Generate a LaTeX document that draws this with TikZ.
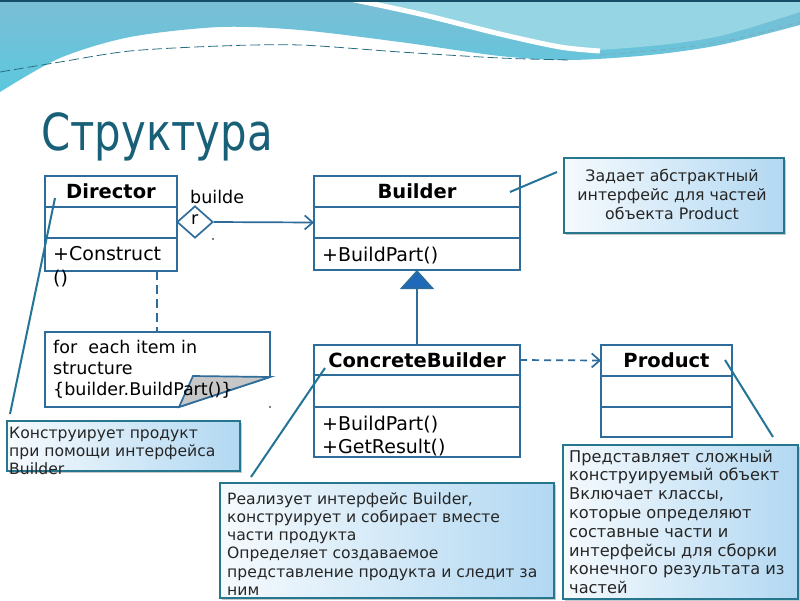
\documentclass[tikz,border=0pt]{standalone}
\usepackage{fontspec}
\setmainfont{DejaVu Sans}
\newfontfamily\titlefont[FakeStretch=0.82]{DejaVu Sans}
\usetikzlibrary{arrows.meta,shapes.geometric,shadows,calc}
\definecolor{uml}{RGB}{46,108,155}
\definecolor{trifill}{RGB}{30,105,185}
\definecolor{notebd}{RGB}{38,118,142}
\definecolor{notein}{RGB}{178,216,242}
\definecolor{callcol}{RGB}{36,116,152}
\definecolor{titlecol}{RGB}{24,96,120}
\definecolor{waveA}{RGB}{122,190,213}
\definecolor{waveB}{RGB}{92,200,222}
\definecolor{waveC}{RGB}{150,214,228}
\definecolor{topline}{RGB}{22,78,104}
\definecolor{dashcol}{RGB}{40,110,130}
\tikzset{
  row/.style={draw=uml, line width=1.7pt, fill=white, minimum width=#1, inner sep=0pt, outer sep=0pt, anchor=north west},
  hdr/.style={font=\bfseries\fontsize{19.5}{22}\selectfont},
  optxt/.style={anchor=base west, inner sep=0pt, font=\fontsize{19}{24}\selectfont},
  assoc/.style={draw=uml, line width=1.7pt},
  note/.style={draw=notebd, line width=1.8pt, left color=white!88!notein, right color=notein, anchor=north west, inner sep=0pt,
     drop shadow={shadow xshift=2.5pt, shadow yshift=-2.5pt, opacity=0.3, fill=black!70}},
  callout/.style={draw=callcol, line width=2pt},
  ntxt/.style={inner sep=0pt, font=\fontsize{#1}{20}\selectfont, text=black!85},
}
\begin{document}
\begin{tikzpicture}[x=1pt,y=-1pt]
\useasboundingbox (0,0) rectangle (800,600);
\fill[white] (0,0) rectangle (800,600);
% header waves
\shade[top color=waveA, bottom color=waveB] (0,0) -- plot[smooth] coordinates {(0,92) (60,58) (130,37) (220,27) (300,30) (400,42) (500,56) (570,60) (650,55) (720,45) (800,25)} -- (800,0) -- cycle;
\fill[waveC] (350,0) -- plot[smooth] coordinates {(350,0) (420,16) (500,36) (570,50) (650,46) (720,36) (800,12)} -- (800,0) -- cycle;
\draw[white, line width=5pt] plot[smooth] coordinates {(345,-2) (420,14) (500,34) (560,47) (600,51)};
\draw[dashcol, line width=0.8pt, dash pattern=on 10pt off 4pt] plot[smooth] coordinates {(0,72) (60,62) (130,51) (220,46) (300,45) (400,52) (500,58) (570,60)};
\draw[dashcol!60, line width=0.6pt, dash pattern=on 6pt off 4pt] plot[smooth] coordinates {(600,55) (680,48) (740,38) (800,22)};
\fill[topline] (0,0) rectangle (800,2);

% title
\node[anchor=base west, inner sep=0pt, font=\titlefont\fontsize{51}{54}\selectfont, text=titlecol] (title) at (41,150) {Структура};

% Director
\node[row=132, minimum height=31, hdr] (dirH) at (45,176) {Director};
\node[row=132, minimum height=31] (dirA) at (45,207) {};
\node[row=132, minimum height=33] (dirO) at (45,238) {};
\node[optxt] (dirT1) at (53,260) {+Construct};
\node[optxt] (dirT2) at (53,284) {()};

% association diamond
\node[diamond, draw=uml, line width=1.7pt, fill=white, minimum width=36, minimum height=32, inner sep=0pt] (dia) at (195,222) {};
\node[anchor=base west, inner sep=0pt, font=\fontsize{17.5}{20}\selectfont] (lab1) at (190,203) {builde};
\node[anchor=base west, inner sep=0pt, font=\fontsize{17.5}{20}\selectfont] (lab2) at (191,224) {r};
\fill[black] (213,239) circle (0.9);

% Builder
\node[row=206, minimum height=31, hdr] (bldH) at (314,176) {Builder};
\node[row=206, minimum height=31] (bldA) at (314,207) {};
\node[row=206, minimum height=32] (bldO) at (314,238) {};
\node[optxt] (bldT) at (322,261) {+BuildPart()};
\draw[assoc, -{Straight Barb[length=8pt,width=14pt]}] (dia.east) -- (bldA.west);

% ConcreteBuilder
\node[row=206, minimum height=30, hdr] (cbH) at (314,345) {ConcreteBuilder};
\node[row=206, minimum height=32] (cbA) at (314,375) {};
\node[row=206, minimum height=50] (cbO) at (314,407) {};
\node[optxt] (cbT1) at (322,430) {+BuildPart()};
\node[optxt] (cbT2) at (322,453) {+GetResult()};
\draw[assoc, -{Triangle[length=19pt,width=34pt,fill=trifill]}] (cbH.north) -- (bldO.south);

% Product
\node[row=131, minimum height=31, hdr] (prH) at (601,345) {Product};
\node[row=131, minimum height=31] (prA) at (601,376) {};
\node[row=131, minimum height=30] (prO) at (601,407) {};
\draw[assoc, dash pattern=on 7pt off 5pt, -{Straight Barb[length=8pt,width=14pt]}] (cbH.east) -- (prH.west);

% note on Director
\coordinate (nTL) at (45,332);
\coordinate (nTR) at (270,332);
\coordinate (nFR) at (270,377);
\coordinate (nFB) at (179,407);
\coordinate (nBL) at (45,407);
\coordinate (nFI) at (193,376);
\draw[uml, line width=1.7pt, fill=white] (nTL) -- (nTR) -- (nFR) -- (nFB) -- (nBL) -- cycle;
\draw[uml, line width=1.7pt, fill=black!22] (nFI) -- (nFR) -- (nFB) -- cycle;
\node[anchor=base west, inner sep=0pt, font=\fontsize{17.5}{22}\selectfont] (nt1) at (53,353) {for\ \ each item in};
\node[anchor=base west, inner sep=0pt, font=\fontsize{17.5}{22}\selectfont] (nt2) at (53,374) {structure};
\node[anchor=base west, inner sep=0pt, font=\fontsize{17.5}{22}\selectfont] (nt3) at (53,395) {\{builder.BuildPart()\}};
\coordinate (dsA) at ($(dirO.south west)!0.85!(dirO.south east)$);
\draw[assoc, line width=2pt, dash pattern=on 9pt off 5pt] (dsA) -- (dsA |- nTL);
\fill[black] (270,407) circle (0.9);

% callout 1
\node[note, minimum width=220, minimum height=75] (n1) at (563,157) {};
\foreach \t [count=\i] in {Задает абстрактный, интерфейс для частей, объекта Product}
  \node[ntxt=15.8, anchor=base] (n1t\i) at (672,{181+(\i-1)*19}) {\t};
\coordinate (c1a) at (557,172);
\coordinate (c1b) at (510,192);
\draw[callout] (c1a) -- (c1b);

% callout 2
\node[note, minimum width=233, minimum height=50] (n2) at (6,420) {};
\foreach \t [count=\i] in {Конструирует продукт, при помощи интерфейса, Builder}
  \node[ntxt=15.6, anchor=base west] (n2t\i) at (9,{438+(\i-1)*18}) {\t};
\coordinate (c2a) at (55,198);
\coordinate (c2b) at (10,414);
\draw[callout] (c2a) -- (c2b);

% callout 3
\node[note, minimum width=334, minimum height=115] (n3) at (219,482) {};
\foreach \t [count=\i] in {{Реализует интерфейс Builder,}, конструирует и собирает вместе, части продукта, Определяет создаваемое, представление продукта и следит за, ним}
  \node[ntxt=15.6, anchor=base west] (n3t\i) at (227,{504+(\i-1)*18.3}) {\t};
\coordinate (c3a) at (325,368);
\coordinate (c3b) at (251,477);
\draw[callout] (c3a) -- (c3b);

% callout 4
\node[note, minimum width=235, minimum height=154] (n4) at (562,444) {};
\foreach \t [count=\i] in {Представляет сложный, конструируемый объект, {Включает классы,}, которые определяют, составные части и, интерфейсы для сборки, конечного результата из, частей}
  \node[ntxt=16.2, anchor=base west] (n4t\i) at (569,{462+(\i-1)*18.8}) {\t};
\coordinate (c4a) at (725,360);
\coordinate (c4b) at (773,437);
\draw[callout] (c4a) -- (c4b);
\end{tikzpicture}
\end{document}
